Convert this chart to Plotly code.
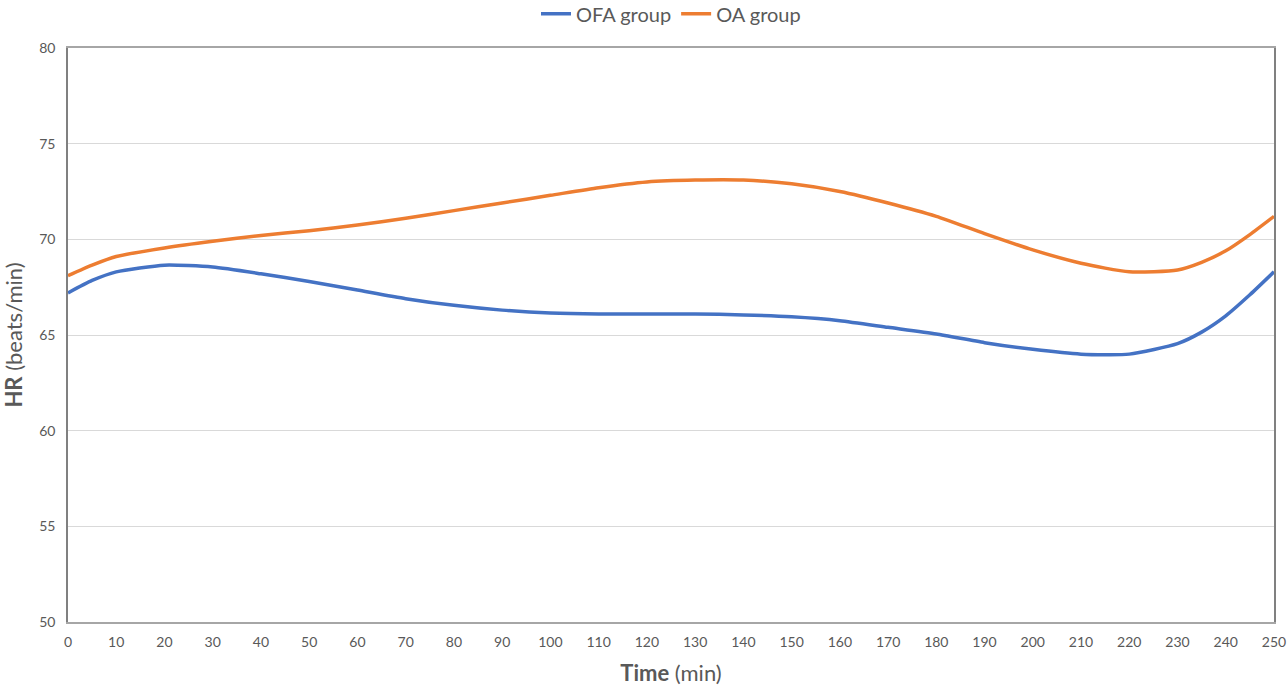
import plotly.graph_objects as go

time_min = [0, 5, 10, 20, 30, 40, 50, 60, 70, 80, 90, 100, 110, 120, 130, 140, 150, 160, 170, 180, 190, 200, 210, 220, 230, 235, 240, 245, 250]
ofa_group = [67.2, 67.85, 68.3, 68.65, 68.55, 68.2, 67.8, 67.35, 66.9, 66.55, 66.3, 66.15, 66.1, 66.1, 66.1, 66.05, 65.95, 65.75, 65.4, 65.05, 64.6, 64.25, 64.0, 64.0, 64.55, 65.15, 66.0, 67.1, 68.3]
oa_group = [68.1, 68.65, 69.1, 69.55, 69.9, 70.2, 70.45, 70.75, 71.1, 71.5, 71.9, 72.3, 72.7, 73.0, 73.1, 73.1, 72.9, 72.5, 71.9, 71.2, 70.3, 69.45, 68.75, 68.3, 68.4, 68.8, 69.4, 70.25, 71.2]
x_ticks = list(range(0, 251, 10))
y_ticks = [50, 55, 60, 65, 70, 75, 80]

FONT = "Lato"
TXT = "#595959"

fig = go.Figure()
fig.add_trace(go.Scatter(x=time_min, y=ofa_group, mode="lines", name="OFA group",
                         line=dict(color="#4472C4", width=3.5, shape="spline", smoothing=0.6)))
fig.add_trace(go.Scatter(x=time_min, y=oa_group, mode="lines", name="OA group",
                         line=dict(color="#ED7D31", width=3.5, shape="spline", smoothing=0.6)))

fig.update_layout(
    width=1287, height=686,
    margin=dict(l=68, r=13, t=48, b=64, autoexpand=False),
    paper_bgcolor="white", plot_bgcolor="white",
    font=dict(family=FONT, color=TXT),
    legend=dict(orientation="h", x=0.5, xanchor="center", y=0.98, yanchor="middle",
                yref="container", font=dict(size=20, color=TXT),
                traceorder="normal", itemwidth=30),
    showlegend=True,
)

fig.update_xaxes(range=[0, 250], tickvals=x_ticks, ticktext=[str(v) for v in x_ticks],
                 showgrid=False, zeroline=False, showline=True, linecolor="#a6a6a6", linewidth=1.5,
                 mirror=True, ticks="", automargin=False, ticklabelstandoff=6,
                 tickfont=dict(size=14, color=TXT),
                 title=dict(text="<b>Time</b> (min)", font=dict(size=22, color=TXT), standoff=24))
fig.update_yaxes(range=[50, 80], tickvals=y_ticks, ticktext=[str(v) for v in y_ticks],
                 showgrid=True, gridcolor="#d9d9d9", gridwidth=1, zeroline=False,
                 showline=True, linecolor="#808080", linewidth=1.5, mirror=True, ticks="",
                 automargin=False, ticklabelstandoff=8, tickfont=dict(size=14, color=TXT),
                 title=dict(text="<b>HR</b> (beats/min)", font=dict(size=22, color=TXT), standoff=20))

fig.write_html("out.html", config={"displayModeBar": False},
               post_script="document.body.style.margin='0';")
